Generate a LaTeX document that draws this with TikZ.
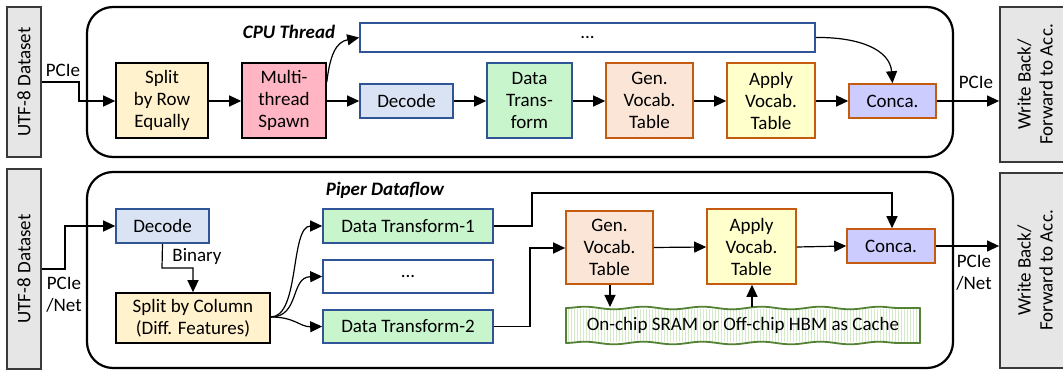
\documentclass[tikz,border=0pt]{standalone}
\usepackage{fontspec}
\setmainfont{Carlito}
\usetikzlibrary{arrows.meta,decorations.pathmorphing}
\definecolor{grayfill}{HTML}{E7E6E6}
\definecolor{grayline}{HTML}{3A3A3A}
\definecolor{splitfill}{HTML}{FFF2CC}
\definecolor{spawnfill}{HTML}{FFB5C3}
\definecolor{decfill}{HTML}{DAE3F3}
\definecolor{blueline}{HTML}{2F5597}
\definecolor{dtfill}{HTML}{C9F5CD}
\definecolor{genfill}{HTML}{FBE5D6}
\definecolor{brownline}{HTML}{C55A11}
\definecolor{applyfill}{HTML}{FFFFCC}
\definecolor{concafill}{HTML}{CCCCFF}
\definecolor{cacheline}{HTML}{548235}
\definecolor{cachehatch}{HTML}{D5EBC8}
\tikzset{
  every node/.style={font=\fontsize{19}{22}\selectfont, inner sep=0pt, align=center},
  sidebox/.style={draw=grayline, line width=1.8pt, fill=grayfill, minimum width=34pt},
  container/.style={draw=black, line width=2.2pt, rounded corners=26pt},
  blk/.style={draw=black, line width=1.6pt},
  bluebox/.style={draw=blueline, line width=1.6pt},
  brownbox/.style={draw=brownline, line width=1.6pt},
  conn/.style={line width=1.2pt, -{Triangle[length=12pt,width=11pt]}},
  lbl/.style={font=\fontsize{19}{22}\selectfont},
  ttl/.style={font=\fontsize{19}{22}\selectfont\bfseries\itshape},
  hatch/.style={draw=cachehatch, line width=0.9pt},
  cacheedge/.style={draw=cacheline, line width=1.8pt, line cap=round},
  wavy/.style={cacheedge, decorate, decoration={snake, amplitude=1.3pt, segment length=59pt}},
}
\begin{document}
\begin{tikzpicture}[x=1pt,y=-1pt]
\useasboundingbox (0,0) rectangle (1063,371);
% containers
\draw[container] (87,7) rectangle (953,157);
\draw[container] (87,172) rectangle (953,368);
% side boxes
\node[sidebox, minimum height=150pt] (utf1) at (24,82) {};
\node[rotate=90] at (utf1.center) {UTF-8 Dataset};
\node[sidebox, minimum height=200pt] (utf2) at (24,269) {};
\node[rotate=90] at (utf2.center) {UTF-8 Dataset};
\node[sidebox, minimum width=64pt, minimum height=155pt] (wb1) at (1032,84.5) {};
\node[rotate=90] at (1035,84.5) {Write Back/\\Forward to Acc.};
\node[sidebox, minimum width=64pt, minimum height=195pt] (wb2) at (1032,270.5) {};
\node[rotate=90] at (1035,270.5) {Write Back/\\Forward to Acc.};
% titles
\node[ttl] (t1) at (289,32) {CPU Thread};
\node[ttl] (t2) at (385,190) {Piper Dataflow};
% top row
\node[blk, fill=splitfill, minimum width=92pt, minimum height=75pt] (splitrow) at (162,100.5) {Split\\by Row\\Equally};
\node[blk, fill=spawnfill, minimum width=84pt, minimum height=75pt] (spawn) at (284,100.5) {Multi-\\thread\\Spawn};
\node[bluebox, fill=white, minimum width=455pt, minimum height=29pt] (dots1) at (587.5,37.5) {...};
\node[bluebox, fill=decfill, minimum width=93pt, minimum height=34pt] (dec1) at (406.5,101) {Decode};
\node[bluebox, fill=dtfill, minimum width=85pt, minimum height=75pt] (dt) at (529.5,100.5) {Data\\Trans-\\form};
\node[brownbox, fill=genfill, minimum width=87pt, minimum height=75pt] (gen1) at (649.5,100.5) {Gen.\\Vocab.\\Table};
\node[brownbox, fill=applyfill, minimum width=88pt, minimum height=75pt] (apply1) at (771,100.5) {Apply\\Vocab.\\Table};
\node[brownbox, fill=concafill, minimum width=87pt, minimum height=34pt] (conca1) at (892.5,101) {Conca.};
% top connectors
\coordinate (p1) at (utf1.east |- 0,82);
\draw[conn] (p1) -- (79,82) -- (79,101) -- (splitrow.west |- 0,101);
\node[lbl] at (63,70) {PCIe};
\draw[conn] (splitrow.east |- 0,101) -- (spawn.west |- 0,101);
\draw[conn] (spawn.east |- 0,101) -- (dec1.west);
\draw[conn] (spawn.east |- 0,82) .. controls (330,55) and (336,42) .. (dots1.west);
\draw[conn] (dec1.east) -- (dt.west |- 0,101);
\draw[conn] (dt.east |- 0,101) -- (gen1.west |- 0,101);
\draw[conn] (gen1.east |- 0,101) -- (apply1.west |- 0,101);
\draw[conn] (apply1.east |- 0,101) -- (conca1.west);
\draw[conn] (dots1.east) .. controls (860,37) and (890,50) .. (conca1.north);
\draw[conn] (conca1.east) -- (wb1.west |- 0,101);
\node[lbl] at (976,82) {PCIe};
% bottom row
\node[bluebox, fill=decfill, minimum width=93pt, minimum height=34pt] (dec2) at (162.5,226) {Decode};
\node[blk, fill=splitfill, minimum width=154pt, minimum height=50pt] (splitcol) at (193,318) {Split by Column\\(Diff. Features)};
\node[bluebox, fill=dtfill, minimum width=170pt, minimum height=34pt] (dt1) at (408,226) {Data Transform-1};
\node[bluebox, fill=white, minimum width=170pt, minimum height=33pt] (dots2) at (408,276.5) {...};
\node[bluebox, fill=dtfill, minimum width=170pt, minimum height=33pt] (dt2) at (408,326.5) {Data Transform-2};
\node[brownbox, fill=genfill, minimum width=87pt, minimum height=73pt] (gen2) at (609.5,247.5) {Gen.\\Vocab.\\Table};
\node[brownbox, fill=applyfill, minimum width=89pt, minimum height=75pt] (apply2) at (751.5,246.5) {Apply\\Vocab.\\Table};
\node[brownbox, fill=concafill, minimum width=88pt, minimum height=34pt] (conca2) at (891,246) {Conca.};
% cache
\fill[white] (566,308) rectangle (920,343);
\foreach \hx in {568,571,...,918} { \draw[hatch] (\hx,309) -- (\hx,342); }
\draw[wavy] (566,308) -- (920,308);
\draw[wavy] (566,343) -- (920,343);
\draw[cacheedge] (566,308) -- (566,343);
\draw[cacheedge] (920,308) -- (920,343);
\node (cache) at (743,325.5) {On-chip SRAM or Off-chip HBM as Cache};
\coordinate (cachetop1) at (610,307);
\coordinate (cachetop2) at (752,307);
% bottom connectors
\coordinate (p2) at (utf2.east |- 0,269);
\draw[conn] (p2) -- (65,269) -- (65,226) -- (dec2.west);
\node[lbl] at (64,295) {PCIe\\/Net};
\draw[conn] (dec2.south) -- (162,268) -- (193,268) -- (splitcol.north);
\node[lbl] at (197,256) {Binary};
\draw[conn] (splitcol.east |- 0,317) .. controls (300,317) and (290,226) .. (dt1.west);
\draw[conn] (splitcol.east |- 0,317) .. controls (300,317) and (290,277) .. (dots2.west);
\draw[conn] (splitcol.east |- 0,317) .. controls (295,317) and (300,327) .. (dt2.west);
\draw[conn] (dt1.east) -- (532,226) -- (532,193) -- (892,193) -- (conca2.north -| 892,0);
\draw[conn] (dt2.east) -- (530,326.5) -- (530,248) -- (gen2.west |- 0,248);
\draw[conn] (gen2.east |- 0,247.5) -- (apply2.west |- 0,247);
\draw[conn] (apply2.east |- 0,247) -- (conca2.west);
\draw[conn] (conca2.east) -- (wb2.west |- 0,246);
\node[lbl] at (974,273) {PCIe\\/Net};
\draw[conn] (gen2.south -| 610,0) -- (cachetop1);
\draw[conn] (cachetop2) -- (apply2.south -| 752,0);
\end{tikzpicture}
\end{document}
